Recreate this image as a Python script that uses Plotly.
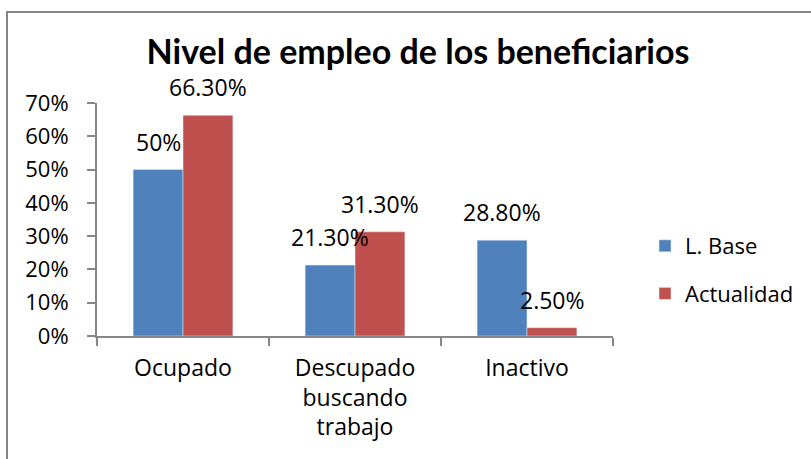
import plotly.graph_objects as go

categories = ["Ocupado", "Descupado<br>buscando<br>trabajo", "Inactivo"]
base_values = [0.50, 0.213, 0.288]
actual_values = [0.663, 0.313, 0.025]
base_labels = ["50%", "21.30%", "28.80%"]
actual_labels = ["66.30%", "31.30%", "2.50%"]
y_ticks = [0, 0.1, 0.2, 0.3, 0.4, 0.5, 0.6, 0.7]

BLUE = "#4F81BD"
RED = "#C0504D"
AXIS = "#868686"
FONT = "Open Sans"

fig = go.Figure()
fig.add_trace(go.Bar(x=categories, y=base_values, name="L. Base",
                     marker=dict(color=BLUE), legendgroup="a"))
fig.add_trace(go.Bar(x=categories, y=actual_values, name="Actualidad",
                     marker=dict(color=RED), legendgroup="b"))

# data labels above each bar
for cat, v, t in zip(categories, base_values, base_labels):
    fig.add_annotation(x=cat, y=v, text=t, showarrow=False, xshift=-25,
                       yshift=28, yanchor="middle",
                       font=dict(family=FONT, size=23, color="#000"))
for cat, v, t in zip(categories, actual_values, actual_labels):
    fig.add_annotation(x=cat, y=v, text=t, showarrow=False, xshift=25,
                       yshift=28, yanchor="middle",
                       font=dict(family=FONT, size=23, color="#000"))

# outer chart border
fig.add_shape(type="rect", xref="paper", yref="paper",
              x0=(7 - 97) / 516, x1=(830 - 97) / 516,
              y0=(336 - 480) / 233, y1=(336 - 12) / 233,
              line=dict(color=AXIS, width=2), layer="below")

fig.update_layout(
    width=811, height=459,
    margin=dict(l=97, r=198, t=103, b=123, autoexpand=False),
    paper_bgcolor="white", plot_bgcolor="white",
    barmode="group", bargap=0.42, bargroupgap=0,
    font=dict(family=FONT, size=22, color="#000"),
    title=dict(text="<b>Nivel de empleo de los beneficiarios</b>",
               font=dict(family="Lato", size=34, color="#000"),
               x=(418 - 97) / 516, xref="paper", xanchor="center",
               y=1 - 52 / 459, yanchor="middle"),
    legend=dict(x=(645 - 97) / 516, y=(336 - 225) / 233,
                xanchor="left", yanchor="top",
                font=dict(family=FONT, size=22),
                tracegroupgap=16, traceorder="grouped",
                bgcolor="rgba(0,0,0,0)"),
    showlegend=True,
)
fig.update_xaxes(showline=True, linecolor=AXIS, linewidth=2,
                 ticks="outside", ticklen=8, tickcolor=AXIS, tickwidth=2,
                 tickson="boundaries", showgrid=False,
                 ticklabelstandoff=10,
                 tickfont=dict(family=FONT, size=23))
fig.update_yaxes(range=[0, 0.7], tickvals=y_ticks, tickformat=".0%",
                 showline=True, linecolor=AXIS, linewidth=2,
                 ticks="outside", ticklen=8, tickcolor=AXIS, tickwidth=2,
                 showgrid=False, zeroline=False,
                 ticklabelstandoff=14,
                 tickfont=dict(family=FONT, size=22))

fig.write_html("out.html", config=dict(displayModeBar=False),
               post_script="document.body.style.margin='0px';")
